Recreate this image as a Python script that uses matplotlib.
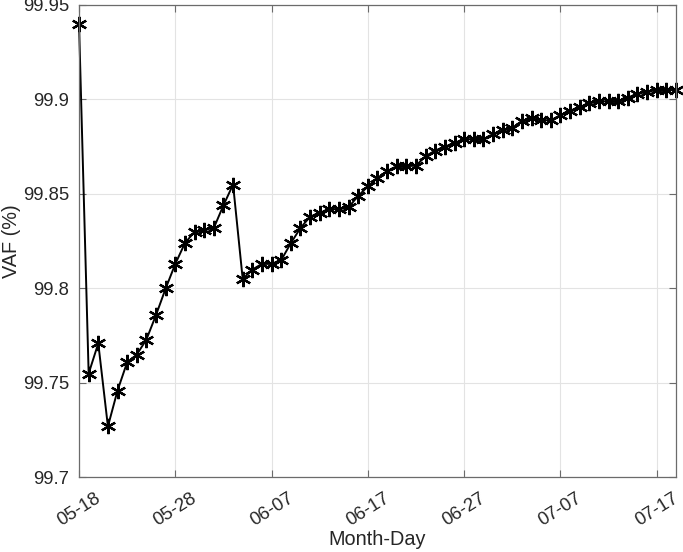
import numpy as np
import matplotlib
matplotlib.use('Agg')
import matplotlib.pyplot as plt
import matplotlib.dates as mdates
from datetime import date, timedelta

# daily values, 05-18 .. 07-19
start_day = date(2023, 5, 18)
vaf = [99.940, 99.755, 99.771, 99.727, 99.746, 99.761, 99.765, 99.773, 99.786, 99.800,
       99.813, 99.824, 99.830, 99.831, 99.832, 99.844, 99.855, 99.805, 99.810, 99.813,
       99.813, 99.815, 99.824, 99.832, 99.838, 99.840, 99.842, 99.842, 99.843, 99.849,
       99.854, 99.8585, 99.862, 99.8647, 99.8647, 99.865, 99.870, 99.873, 99.875, 99.877,
       99.879, 99.879, 99.879, 99.8816, 99.8837, 99.885, 99.8886, 99.890, 99.889, 99.889,
       99.8916, 99.894, 99.896, 99.898, 99.899, 99.899, 99.899, 99.901, 99.903, 99.904,
       99.905, 99.905, 99.905]
days = [start_day + timedelta(days=i) for i in range(len(vaf))]
ytick_vals = [99.7, 99.75, 99.8, 99.85, 99.9, 99.95]
ytick_labels = ['99.7', '99.75', '99.8', '99.85', '99.9', '99.95']

plt.rcParams['font.family'] = ['Liberation Sans', 'DejaVu Sans']
fig = plt.figure(figsize=(6.83, 5.52), dpi=100)
ax = fig.add_axes([0.1157, 0.135, 0.874, 0.856])

ax.plot(days, vaf, color='black', linewidth=1.4, marker=(6, 2, 0),
        markersize=11, markeredgewidth=1.6, clip_on=False)

ax.set_xlim(days[0], days[-1])
ax.set_ylim(99.7, 99.95)
ax.set_yticks(ytick_vals)
ax.set_yticklabels(ytick_labels)
ticks = [start_day + timedelta(days=10 * k) for k in range(7)]
ax.set_xticks(ticks)
ax.xaxis.set_major_formatter(mdates.DateFormatter('%m-%d'))
plt.setp(ax.get_xticklabels(), rotation=32, ha='center', va='top')

ax.grid(True, color='#e3e3e3', linewidth=0.8)
ax.set_axisbelow(True)
for s in ax.spines.values():
    s.set_color('#6b6b6b')
    s.set_linewidth(0.9)
ax.tick_params(direction='in', length=5, color='#6b6b6b', labelsize=13.3,
               labelcolor='#262626', top=True, right=True)
ax.tick_params(axis='x', pad=9)
ax.tick_params(axis='y', pad=7)

ax.set_xlabel('Month-Day', fontsize=14.3, color='#262626', labelpad=0)
ax.set_ylabel('VAF (%)', fontsize=14.3, color='#262626')
ax.yaxis.set_label_coords(-0.097, 0.5)

fig.savefig('out.png', dpi=100)
